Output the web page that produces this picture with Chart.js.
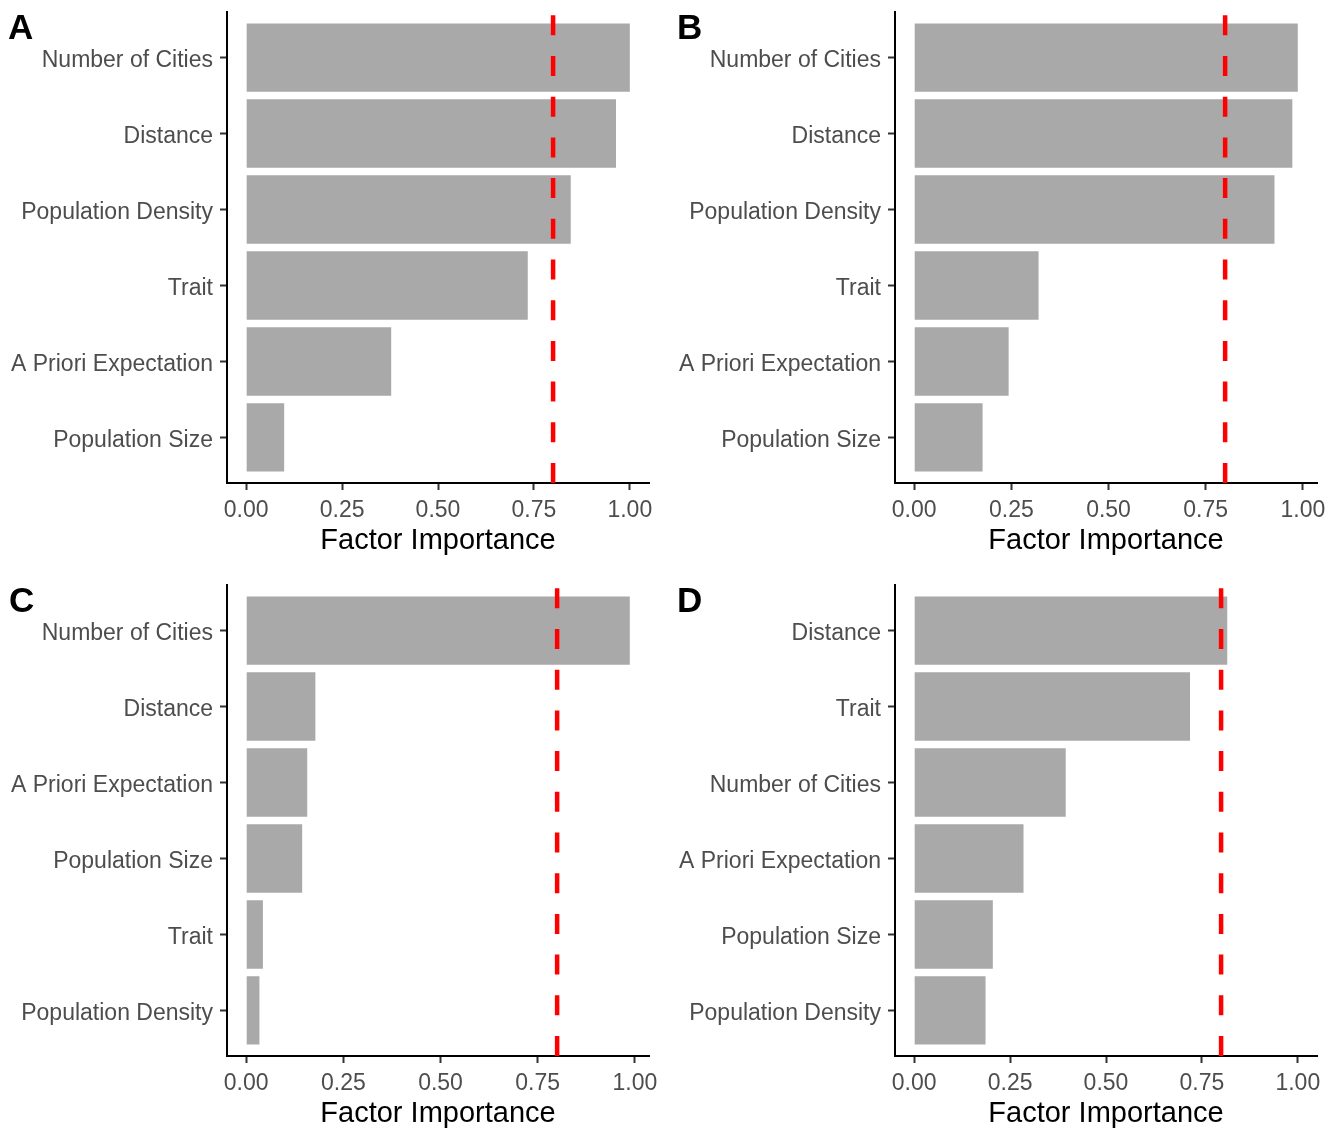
<!DOCTYPE html>
<html>
<head>
<meta charset="utf-8">
<title>Factor Importance</title>
<script src="https://cdn.jsdelivr.net/npm/chart.js@4.4.1/dist/chart.umd.min.js"></script>
<style>
  body { margin: 0; background: #fff; }
  #wrap { position: relative; width: 1338px; height: 1128px; overflow: hidden; background: #fff; }
  canvas { position: absolute; }
  .tag { position: absolute; font: bold 35px "Liberation Sans", Arial, sans-serif; line-height: 35px; color: #000; }
</style>
</head>
<body>
<div id="wrap">
  <canvas id="chartA" width="669" height="555" style="left:0px;top:0px"></canvas>
  <canvas id="chartB" width="669" height="555" style="left:668px;top:0px"></canvas>
  <canvas id="chartC" width="669" height="555" style="left:0px;top:573px"></canvas>
  <canvas id="chartD" width="669" height="555" style="left:668px;top:573px"></canvas>
  <div class="tag" style="left:8px;top:9px">A</div>
  <div class="tag" style="left:677px;top:9px">B</div>
  <div class="tag" style="left:9px;top:582px">C</div>
  <div class="tag" style="left:677px;top:582px">D</div>
</div>
<script>
// panel data, top bar first
const catsA = ['Number of Cities', 'Distance', 'Population Density', 'Trait', 'A Priori Expectation', 'Population Size'];
const valsA = [1.00, 0.964, 0.846, 0.734, 0.378, 0.099];

const catsB = ['Number of Cities', 'Distance', 'Population Density', 'Trait', 'A Priori Expectation', 'Population Size'];
const valsB = [0.987, 0.973, 0.927, 0.320, 0.243, 0.176];

const catsC = ['Number of Cities', 'Distance', 'A Priori Expectation', 'Population Size', 'Trait', 'Population Density'];
const valsC = [0.987, 0.178, 0.157, 0.144, 0.043, 0.034];

const catsD = ['Distance', 'Trait', 'Number of Cities', 'A Priori Expectation', 'Population Size', 'Population Density'];
const valsD = [0.816, 0.719, 0.395, 0.285, 0.205, 0.186];

// x limits of each panel (ggplot 5% expansion)
const rangeA = [-0.05, 1.05];
const rangeB = [-0.0494, 1.0364];
const rangeC = [-0.0494, 1.0364];
const rangeD = [-0.05, 1.05];

const xTicks = [0, 0.25, 0.5, 0.75, 1];
const cutoff = 0.8;

Chart.defaults.font.family = '"Liberation Sans", Arial, sans-serif';

// red dashed line at the cutoff
const cutoffLine = {
    id: 'cutoffLine',
    afterDatasetsDraw(chart) {
        const {ctx, chartArea, scales} = chart;
        const x = scales.x.getPixelForValue(cutoff);
        ctx.save();
        ctx.strokeStyle = '#FF0000';
        ctx.lineWidth = 4.5;
        ctx.setLineDash([20, 20.7]);
        ctx.beginPath();
        ctx.moveTo(x, chartArea.bottom);
        ctx.lineTo(x, chartArea.top);
        ctx.stroke();
        ctx.restore();
    }
};

function makePanel(id, cats, vals, range) {
    return new Chart(document.getElementById(id), {
        type: 'bar',
        data: {
            datasets: [{
                data: vals.map((v, i) => ({x: v, y: i})),
                backgroundColor: '#A9A9A9',
                categoryPercentage: 0.9,
                barPercentage: 1.0
            }]
        },
        options: {
            indexAxis: 'y',
            responsive: false,
            animation: false,
            devicePixelRatio: 1,
            layout: {padding: {top: 12, right: 20, bottom: 0, left: 0}},
            plugins: {
                legend: {display: false},
                tooltip: {enabled: false}
            },
            scales: {
                x: {
                    type: 'linear',
                    min: range[0],
                    max: range[1],
                    afterBuildTicks: s => { s.ticks = xTicks.map(v => ({value: v})); },
                    afterFit: s => { s.height = 72; s.paddingLeft = 0; s.paddingRight = 0; },
                    ticks: {
                        callback: v => v.toFixed(2),
                        color: '#4D4D4D',
                        font: {size: 23},
                        padding: 7,
                        maxRotation: 0,
                        autoSkip: false
                    },
                    grid: {drawOnChartArea: false, tickLength: 7, tickColor: '#333333', tickWidth: 2},
                    border: {display: true, color: '#000000', width: 2},
                    title: {
                        display: true,
                        text: 'Factor Importance',
                        color: '#000000',
                        font: {size: 29, lineHeight: 1},
                        padding: 0
                    }
                },
                y: {
                    type: 'linear',
                    reverse: true,
                    offset: false,
                    min: -0.6,
                    max: 5.6,
                    afterBuildTicks: s => { s.ticks = cats.map((c, i) => ({value: i})); },
                    afterFit: s => { s.width = 227; s.paddingTop = 0; s.paddingBottom = 0; },
                    ticks: {
                        // empty first line nudges the label a few px down, like the R output
                        callback: v => ['', cats[v]],
                        color: '#4D4D4D',
                        font: {size: 23, lineHeight: '6px'},
                        padding: 7,
                        autoSkip: false
                    },
                    grid: {offset: false, drawOnChartArea: false, tickLength: 7, tickColor: '#333333', tickWidth: 2},
                    border: {display: true, color: '#000000', width: 2}
                }
            }
        },
        plugins: [cutoffLine]
    });
}

makePanel('chartA', catsA, valsA, rangeA);
makePanel('chartB', catsB, valsB, rangeB);
makePanel('chartC', catsC, valsC, rangeC);
makePanel('chartD', catsD, valsD, rangeD);
</script>
</body>
</html>
